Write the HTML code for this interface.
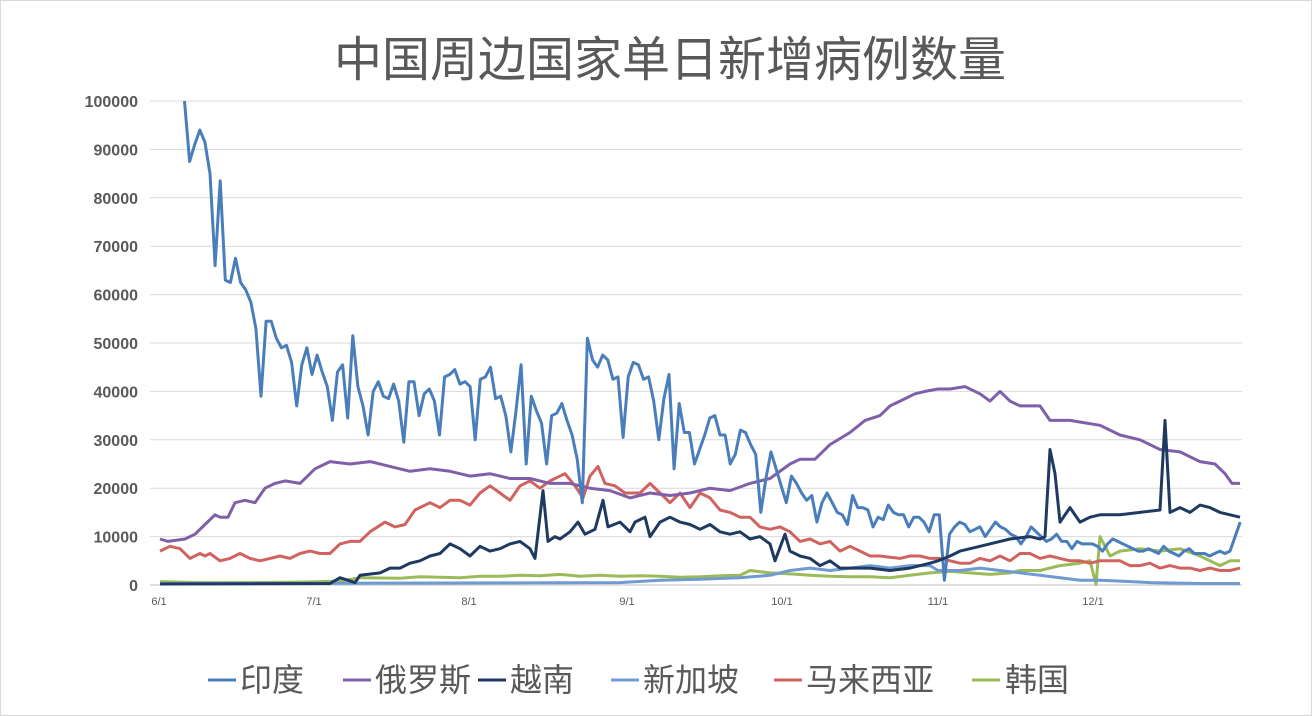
<!DOCTYPE html>
<html><head><meta charset="utf-8"><style>
body{margin:0;background:#fff;}
svg{display:block;font-family:"Liberation Sans","Noto Sans CJK SC",sans-serif;}
</style></head><body>
<svg id="s" width="1312" height="716" viewBox="0 0 1312 716">
<rect x="0.5" y="0.5" width="1311" height="715" fill="#fff" stroke="#d9d9d9"/>
<text x="670" y="76" text-anchor="middle" font-size="48" fill="#595959">中国周边国家单日新增病例数量</text>
<g id="grid"></g>
<g id="lines" fill="none" stroke-width="3" stroke-linejoin="round"></g>
<g font-size="11" fill="#595959" text-anchor="middle">
<text x="159" y="605">6/1</text><text x="314" y="605">7/1</text><text x="469" y="605">8/1</text><text x="627" y="605">9/1</text><text x="782" y="605">10/1</text><text x="938" y="605">11/1</text><text x="1093" y="605">12/1</text>
</g>
<g font-size="32" fill="#595959">
<line x1="208" y1="680" x2="236" y2="680" stroke="#4a7ebb" stroke-width="3"/><text x="240" y="691">印度</text>
<line x1="343" y1="680" x2="371" y2="680" stroke="#7f60a8" stroke-width="3"/><text x="375" y="691">俄罗斯</text>
<line x1="478" y1="680" x2="506" y2="680" stroke="#1f3a60" stroke-width="3"/><text x="510" y="691">越南</text>
<line x1="611" y1="680" x2="639" y2="680" stroke="#6f9bd1" stroke-width="3"/><text x="643" y="691">新加坡</text>
<line x1="774" y1="680" x2="802" y2="680" stroke="#d0635f" stroke-width="3"/><text x="806" y="691">马来西亚</text>
<line x1="972" y1="680" x2="1000" y2="680" stroke="#9bbb59" stroke-width="3"/><text x="1005" y="691">韩国</text>
</g>
</svg>
<script>
var Y=function(v){return 585-v*4.84};
var g=document.getElementById('grid'),h='';
for(var i=0;i<=10;i++){var y=Y(i*10);h+='<line x1="150" x2="1242" y1="'+y+'" y2="'+y+'" stroke="'+(i==0?'#bfbfbf':'#d9d9d9')+'"/>';
h+='<text x="138" y="'+(y+6)+'" text-anchor="end" font-size="16" font-weight="bold" fill="#595959">'+(i*10000)+'</text>';}
g.innerHTML=h;
var ind=[100,87.5,91,94,91.5,85,66,83.5,63,62.5,67.5,62.5,61,58.5,53,39,54.5,54.5,51,49,49.5,46,37,45.5,49,43.5,47.5,44,41,34,44,45.5,34.5,51.5,41,37,31,40,42,39,38.5,41.5,38,29.5,42,42,35,39.5,40.5,38,31,43,43.5,44.5,41.5,42,41,30,42.5,43,45,38.5,39,35,27.5,36,45.5,25,39,36,33.5,25,35,35.5,37.5,34,31,26,17,51,46.5,45,47.5,46.5,42.5,43,30.5,43,46,45.5,42.5,43,38,30,38.5,43.5,24,37.5,31.5,31.5,25,28,31,34.5,35,31,31,25,27,32,31.5,29,27,15,22,27.5,24,20.5,17,22.5,21,19,17.5,18.5,13,17,19,17,15,14.5,12.5,18.5,16,16,15.5,12,14,13.5,16.5,15,14.5,14.5,12,14,14,13,11,14.5,14.5,1,10.5,12,13,12.5,11,11.5,12,10,11.5,13,12,11.5,10.5,10,8.5,10,12,11,10,9,9.5,10.5,9,9,7.5,9,8.5,8.5,8.5,8,7,8.5,9.5,9,8.5,8,7.5,7,7,7.5,7,6.5,8,7,6.5,6,7,7.5,6.5,6.5,6.5,6,6.5,7,6.5,7,10,13];
var indP=ind.map(function(v,i){return [159+(i+5)*5.1,v]});
var S={
ru:[[160,9.5],[168,9],[185,9.5],[195,10.5],[205,12.5],[215,14.5],[220,14],[228,14],[235,17],[245,17.5],[255,17],[265,20],[275,21],[285,21.5],[300,21],[315,24],[330,25.5],[350,25],[370,25.5],[390,24.5],[410,23.5],[430,24],[450,23.5],[470,22.5],[490,23],[510,22],[530,22],[550,21],[570,21],[590,20],[610,19.5],[630,18],[650,19],[670,18.5],[690,19],[710,20],[730,19.5],[750,21],[770,22],[790,25],[800,26],[815,26],[830,29],[850,31.5],[865,34],[880,35],[890,37],[900,38],[915,39.5],[925,40],[938,40.5],[950,40.5],[965,41],[980,39.5],[990,38],[1000,40],[1010,38],[1020,37],[1040,37],[1050,34],[1070,34],[1085,33.5],[1100,33],[1120,31],[1140,30],[1160,28],[1180,27.5],[1200,25.5],[1215,25],[1225,23],[1232,21],[1240,21]],
vn:[[160,0.2],[330,0.3],[340,1.5],[355,0.5],[360,2],[380,2.5],[390,3.5],[400,3.5],[410,4.5],[420,5],[430,6],[440,6.5],[450,8.5],[460,7.5],[470,6],[480,8],[490,7],[500,7.5],[510,8.5],[520,9],[530,7.5],[535,5.5],[543,19.5],[548,9],[555,10],[560,9.5],[570,11],[578,13],[585,10.5],[595,11.5],[603,17.5],[608,12],[620,13],[630,11],[635,13],[645,14],[650,10],[660,13],[670,14],[680,13],[690,12.5],[700,11.5],[710,12.5],[720,11],[730,10.5],[740,11],[750,9.5],[760,10],[770,8.5],[775,5],[785,10.5],[790,7],[800,6],[810,5.5],[820,4],[830,5],[840,3.5],[850,3.5],[870,3.5],[890,3],[910,3.5],[930,4.5],[938,5],[950,6],[960,7],[970,7.5],[980,8],[1000,9],[1010,9.5],[1030,10],[1040,9.5],[1045,10],[1050,28],[1055,23],[1060,13],[1070,16],[1080,13],[1090,14],[1100,14.5],[1120,14.5],[1140,15],[1160,15.5],[1165,34],[1170,15],[1180,16],[1190,15],[1200,16.5],[1210,16],[1220,15],[1230,14.5],[1240,14]],
sg:[[160,0.3],[620,0.5],[660,1],[700,1.2],[740,1.5],[770,2],[790,3],[810,3.5],[830,3],[850,3.5],[870,4],[890,3.5],[910,4],[930,4],[938,3],[960,3],[980,3.5],[1000,3],[1020,2.5],[1040,2],[1060,1.5],[1080,1],[1100,1],[1120,0.8],[1150,0.5],[1200,0.3],[1240,0.3]],
my:[[160,7],[170,8],[180,7.5],[190,5.5],[200,6.5],[205,6],[210,6.5],[220,5],[230,5.5],[240,6.5],[250,5.5],[260,5],[270,5.5],[280,6],[290,5.5],[300,6.5],[310,7],[320,6.5],[330,6.5],[340,8.5],[350,9],[360,9],[370,11],[385,13],[395,12],[405,12.5],[415,15.5],[430,17],[440,16],[450,17.5],[460,17.5],[470,16.5],[480,19],[490,20.5],[500,19],[510,17.5],[520,20.5],[530,21.5],[540,20],[550,21.5],[565,23],[575,20.5],[583,18],[590,22.5],[598,24.5],[605,21],[615,20.5],[625,19],[640,19],[650,21],[660,19],[670,17],[680,19],[690,16],[700,19],[710,18],[720,15.5],[730,15],[740,14],[750,14],[760,12],[770,11.5],[780,12],[790,11],[800,9],[810,9.5],[820,8.5],[830,9],[840,7],[850,8],[860,7],[870,6],[880,6],[900,5.5],[910,6],[920,6],[930,5.5],[940,5.5],[950,5],[960,4.5],[970,4.5],[980,5.5],[990,5],[1000,6],[1010,5],[1020,6.5],[1030,6.5],[1040,5.5],[1050,6],[1060,5.5],[1070,5],[1080,5],[1090,4.5],[1100,5],[1110,5],[1120,5],[1130,4],[1140,4],[1150,4.5],[1160,3.5],[1170,4],[1180,3.5],[1190,3.5],[1200,3],[1210,3.5],[1220,3],[1230,3],[1240,3.5]],
kr:[[160,0.7],[200,0.5],[250,0.5],[300,0.6],[340,0.8],[360,1.5],[400,1.4],[420,1.7],[460,1.5],[480,1.8],[500,1.8],[520,2],[540,1.9],[560,2.2],[580,1.8],[600,2],[620,1.8],[640,1.9],[660,1.8],[680,1.6],[700,1.7],[720,1.9],[740,2],[750,3],[770,2.5],[790,2.3],[810,2],[830,1.8],[850,1.7],[870,1.7],[890,1.5],[910,2],[930,2.5],[950,2.8],[970,2.5],[990,2.2],[1010,2.5],[1020,3],[1040,3],[1060,4],[1080,4.5],[1090,5],[1096,0.1],[1100,10],[1110,6],[1120,7],[1140,7.5],[1160,7],[1180,7.5],[1200,6],[1220,4],[1230,5],[1240,5]]
};
function pl(p,c){return '<polyline stroke="'+c+'" points="'+p.map(function(q){return q[0].toFixed(1)+','+Y(q[1]).toFixed(1)}).join(' ')+'"/>';}
var L=document.getElementById('lines');
L.innerHTML='<clipPath id="c"><rect x="150" y="101" width="1100" height="490"/></clipPath><g clip-path="url(#c)">'+
pl(S.kr,'#9bbb59')+pl(S.my,'#d0635f')+pl(S.sg,'#6f9bd1')+pl(S.ru,'#7f60a8')+pl(indP,'#4a7ebb')+pl(S.vn,'#1f3a60')+'</g>';
</script>
</body></html>
